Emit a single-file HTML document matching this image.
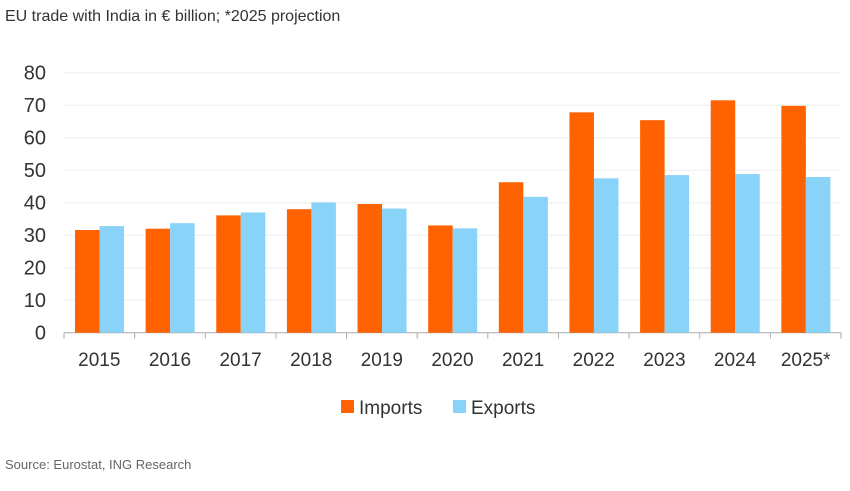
<!DOCTYPE html>
<html><head><meta charset="utf-8"><style>
body{margin:0;background:#fff;width:850px;height:486px;overflow:hidden;font-family:"Liberation Sans",sans-serif}
</style></head><body>
<svg width="850" height="486" id="c" xmlns="http://www.w3.org/2000/svg">
<text x="5" y="21" font-size="16" fill="#333">EU trade with India in € billion; *2025 projection</text>
<text x="5" y="469" font-size="13" fill="#666">Source: Eurostat, ING Research</text>
<g id="plot"></g>
<g>
<rect x="341" y="400" width="13" height="13" fill="#ff6200"/>
<text x="359" y="414" font-size="19" fill="#333">Imports</text>
<rect x="453" y="400" width="13" height="13" fill="#89d3f8"/>
<text x="471" y="414" font-size="19" fill="#333">Exports</text>
</g>
</svg>
<script>
const categories=["2015","2016","2017","2018","2019","2020","2021","2022","2023","2024","2025*"];
const imports=[31.6,32.0,36.1,38.0,39.6,33.0,46.3,67.8,65.4,71.5,69.8];
const exports_=[32.8,33.7,37.0,40.1,38.2,32.1,41.8,47.5,48.5,48.8,47.9];
const yTicks=[0,10,20,30,40,50,60,70,80];
const NS="http://www.w3.org/2000/svg";
const g=document.getElementById('plot');
const x0=64,x1=841,y0=332.7,yTop=72.7,yMax=80;
const bw=(x1-x0)/categories.length;
const y=v=>y0-(v/yMax)*(y0-yTop);
function mk(t,a){const e=document.createElementNS(NS,t);for(const k in a)e.setAttribute(k,a[k]);g.appendChild(e);return e;}
yTicks.forEach(t=>{
 if(t>0){const l=mk('line',{x1:x0,x2:x1,y1:y(t),y2:y(t),stroke:'#eeeeee','stroke-width':1});
 
 }
 const tx=mk('text',{x:46,y:y(t)+7,'font-size':20,fill:'#333','text-anchor':'end'});tx.textContent=t;
 
 
});
const ax=mk('line',{x1:x0,x2:x1,y1:y0,y2:y0,stroke:'#aaa','stroke-width':1});


categories.forEach((c,i)=>{
 const gx=x0+i*bw;
 const tk=mk('line',{x1:gx,x2:gx,y1:y0,y2:y0+6,stroke:'#aaa'});
 
 
 const w=24.5,off=11;
 const r1=mk('rect',{x:gx+off,y:y(imports[i]),width:w,height:y0-y(imports[i]),fill:'#ff6200'});
 
 
 const r2=mk('rect',{x:gx+off+w,y:y(exports_[i]),width:w,height:y0-y(exports_[i]),fill:'#89d3f8'});
 
 
 const t=mk('text',{x:gx+bw/2,y:366,'font-size':19,fill:'#333','text-anchor':'middle'});t.textContent=c;
 
 
});
const tk=mk('line',{x1:x1,x2:x1,y1:y0,y2:y0+6,stroke:'#aaa'});


</script>
</body></html>
